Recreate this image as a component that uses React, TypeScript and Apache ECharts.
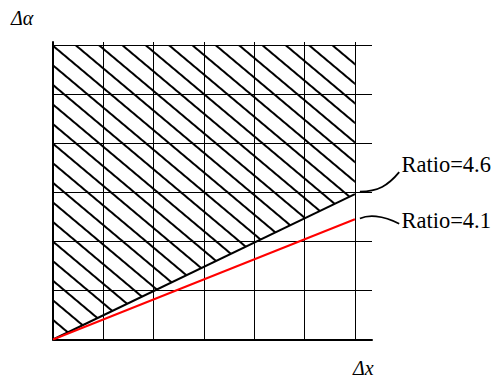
import React, { useEffect, useRef } from "react";
import * as echarts from "echarts";

// Δx positions of the two ratio boundaries
const deltaX = [0, 6];
// Δα along the steeper boundary (upper edge of the unshaded zone)
const ratioHigh = [0, 2.96];
// Δα along the shallower boundary
const ratioLow = [0, 2.45];
const ratioLabels = ["Ratio=4.6", "Ratio=4.1"];
const axisNames = ["Δx", "Δα"];
// upper limit of the hatched zone
const hatchTop = 6;
const xMax = 6.34;
const yMax = 6.06;

const W = 493;
const H = 378;

export default function App() {
  const ref = useRef<HTMLDivElement>(null);

  useEffect(() => {
    if (!ref.current) return;
    const chart = echarts.init(ref.current, undefined, { renderer: "svg" });

    const toPairs = (ys: number[]) => deltaX.map((x, i) => [x, ys[i]]);

    const axisCommon = {
      type: "value" as const,
      min: 0,
      interval: 1,
      axisLine: { show: true, onZero: false, lineStyle: { color: "#000", width: 2 } },
      axisTick: { show: false },
      axisLabel: { show: false },
      splitLine: {
        show: true,
        showMinLine: false,
        showMaxLine: false,
        lineStyle: { color: "#000", width: 1 },
      },
    };

    chart.setOption({
      animation: false,
      backgroundColor: "#fff",
      grid: { left: 53, top: 42, right: W - 372, bottom: H - 339.5, containLabel: false },
      xAxis: { ...axisCommon, max: xMax },
      yAxis: { ...axisCommon, max: yMax },
      series: [
        {
          name: ratioLabels[0],
          type: "line",
          data: toPairs(ratioHigh),
          showSymbol: false,
          z: 3,
          lineStyle: { color: "#000", width: 2 },
          itemStyle: {
            color: "#000",
            // diagonal hatching above the steeper boundary
            decal: {
              symbol: "rect",
              symbolSize: 1,
              color: "#000",
              dashArrayX: [1, 0],
              dashArrayY: [2, 12.2],
              rotation: (40 * Math.PI) / 180,
            },
          },
          areaStyle: { origin: hatchTop, color: "rgba(255,255,255,0)", opacity: 1 },
        },
        {
          name: ratioLabels[1],
          type: "line",
          data: toPairs(ratioLow),
          showSymbol: false,
          z: 4,
          lineStyle: { color: "#ff0000", width: 2 },
          itemStyle: { color: "#ff0000" },
        },
      ],
    });

    const last = deltaX.length - 1;
    const [hx, hy] = chart.convertToPixel({ xAxisIndex: 0, yAxisIndex: 0 }, [deltaX[last], ratioHigh[last]]) as number[];
    const [lx, ly] = chart.convertToPixel({ xAxisIndex: 0, yAxisIndex: 0 }, [deltaX[last], ratioLow[last]]) as number[];
    const [ox] = chart.convertToPixel({ xAxisIndex: 0, yAxisIndex: 0 }, [0, 0]) as number[];

    const labelFont = "22.5px 'Liberation Serif', serif";
    const nameFont = "italic 20px 'Liberation Serif', serif";
    const leader = { stroke: "#000", lineWidth: 1.8, fill: "none" };

    chart.setOption({
      graphic: [
        {
          type: "bezierCurve",
          shape: {
            x1: hx + 5, y1: hy - 2.6,
            cpx1: hx + 23, cpy1: hy - 2.8,
            cpx2: hx + 33, cpy2: hy - 8.3,
            x2: hx + 44.3, y2: hy - 22,
          },
          style: leader,
        },
        {
          type: "bezierCurve",
          shape: {
            x1: lx + 5, y1: ly - 0.7,
            cpx1: lx + 13, cpy1: ly - 4.5,
            cpx2: lx + 27, cpy2: ly - 4.5,
            x2: lx + 44.3, y2: ly + 4.5,
          },
          style: leader,
        },
        {
          type: "text",
          style: { text: ratioLabels[0], x: hx + 46.5, y: hy - 29.5, font: labelFont, fill: "#000", verticalAlign: "middle" },
        },
        {
          type: "text",
          style: { text: ratioLabels[1], x: lx + 46.5, y: ly + 0.8, font: labelFont, fill: "#000", verticalAlign: "middle" },
        },
        {
          type: "text",
          style: { text: axisNames[1], x: ox - 42, y: 18, font: nameFont, fill: "#000", verticalAlign: "middle" },
        },
        {
          type: "text",
          style: { text: axisNames[0], x: ox + 300, y: 368, font: nameFont, fill: "#000", verticalAlign: "middle" },
        },
      ],
    });

    return () => chart.dispose();
  }, []);

  return <div ref={ref} style={{ position: "fixed", left: 0, top: 0, width: W, height: H }} />;
}
